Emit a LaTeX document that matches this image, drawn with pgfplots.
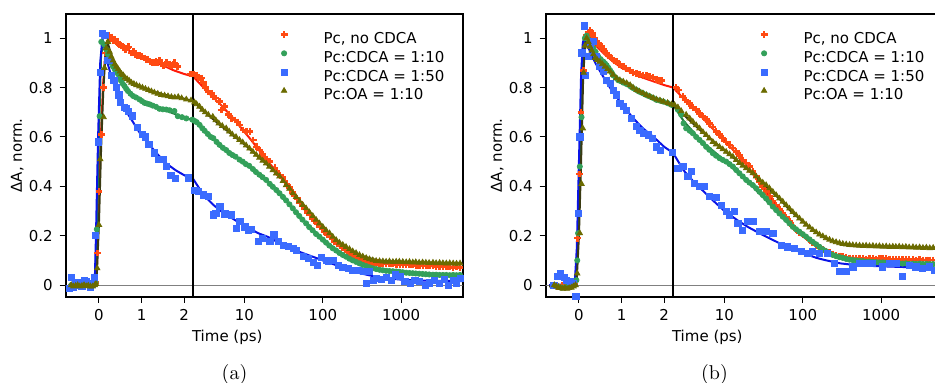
\documentclass[border=0pt]{standalone}
\usepackage{pgfplots}
\pgfplotsset{compat=1.18}
\usepackage{pgfplotstable}
\usepackage{fontspec}
\newfontfamily\dejavu{DejaVu Sans}
\definecolor{redm}{HTML}{FF4A12}
\definecolor{redl}{HTML}{FF1A0A}
\definecolor{greenm}{HTML}{33A05A}
\definecolor{greenl}{HTML}{1E7A3A}
\definecolor{bluem}{HTML}{3A6BFF}
\definecolor{bluel}{HTML}{0A14E6}
\definecolor{olivem}{HTML}{6B6B00}
\definecolor{olivel}{HTML}{3A3A12}

% ---------------- panel (a) data ----------------
\pgfplotstableread{
t v
-0.65 0.0
-0.55 -0.005
-0.45 0.002
-0.35 -0.003
-0.25 0.0
-0.15 0.003
-0.08 0.01
-0.04 0.13
0.00 0.38
0.055 0.61
0.11 0.80
0.16 0.94
0.22 1.01
0.26 1.00
0.29 1.005
0.34 0.99
0.38 0.995
0.41 0.985
0.45 0.98
0.48 0.975
0.52 0.97
0.56 0.965
0.60 0.96
0.63 0.955
0.67 0.96
0.70 0.965
0.76 0.94
0.81 0.945
0.86 0.935
0.90 0.93
0.95 0.93
1.00 0.925
1.07 0.92
1.11 0.915
1.15 0.915
1.20 0.905
1.25 0.90
1.30 0.90
1.34 0.905
1.38 0.90
1.42 0.91
1.47 0.90
1.52 0.89
1.55 0.895
1.59 0.90
1.65 0.895
1.70 0.89
1.74 0.895
1.77 0.90
1.85 0.885
2.15 0.855
2.23 0.855
2.45 0.85
2.6 0.84
2.84 0.838
2.97 0.82
3.2 0.80
3.44 0.784
3.8 0.777
4.05 0.765
4.32 0.757
4.76 0.743
5.1 0.709
5.6 0.723
6.2 0.69
6.84 0.676
7.55 0.669
8.1 0.66
8.74 0.649
9.6 0.628
10.6 0.622
11.7 0.622
12.9 0.588
14.2 0.56
15.7 0.547
17 0.53
18.2 0.514
19.5 0.51
21.1 0.50
24.4 0.475
26 0.46
28.3 0.446
30.5 0.435
32.8 0.419
35 0.41
38 0.395
41 0.375
44 0.36
47 0.35
51 0.335
55 0.32
59 0.31
64 0.295
68.4 0.285
74 0.27
79 0.26
85 0.248
91.6 0.238
98 0.228
106 0.218
114 0.205
123 0.197
132 0.186
142 0.178
153 0.167
165 0.158
178 0.15
191 0.142
206 0.134
221 0.126
238 0.12
256 0.112
276 0.108
297 0.104
320 0.100
344 0.097
370 0.096
398 0.095
430 0.092
461 0.091
497 0.09
534 0.088
580 0.087
645 0.085
710 0.085
781 0.085
870 0.084
964 0.084
1060 0.082
1160 0.081
1280 0.081
1410 0.081
1560 0.079
1730 0.078
1900 0.078
2100 0.077
2320 0.077
2550 0.077
2800 0.076
3100 0.074
3420 0.075
3780 0.074
4180 0.073
4620 0.072
5100 0.073
5650 0.072
}\redA
\pgfplotstableread{
t v
-0.65 0.0
-0.55 0.005
-0.45 -0.003
-0.35 0.0
-0.25 0.002
-0.15 0.0
-0.08 0.01
-0.05 0.226
0.016 0.684
0.055 0.985
0.12 0.975
0.17 0.955
0.21 0.935
0.25 0.915
0.29 0.90
0.33 0.885
0.37 0.874
0.41 0.865
0.45 0.854
0.49 0.84
0.52 0.827
0.56 0.815
0.60 0.806
0.64 0.795
0.68 0.786
0.74 0.775
0.80 0.766
0.87 0.76
0.95 0.752
1.01 0.745
1.07 0.738
1.13 0.735
1.19 0.732
1.26 0.727
1.34 0.722
1.42 0.714
1.50 0.712
1.58 0.711
1.66 0.708
1.77 0.705
1.85 0.684
1.95 0.68
2.05 0.675
2.19 0.67
2.3 0.665
2.45 0.66
2.67 0.649
2.9 0.635
3.1 0.625
3.4 0.612
3.7 0.60
4.0 0.595
4.4 0.58
4.8 0.568
5.3 0.556
5.84 0.547
6.4 0.535
7.0 0.527
7.7 0.52
8.63 0.508
9.5 0.50
10.4 0.49
11.5 0.483
12.8 0.47
14 0.458
15.5 0.447
17 0.437
18.9 0.426
21 0.41
23 0.398
25.5 0.385
28 0.372
31 0.357
34 0.343
37.5 0.327
41.4 0.311
45.5 0.295
50 0.28
55 0.265
61.2 0.25
67 0.235
74 0.222
82 0.207
90.6 0.196
100 0.184
110 0.172
121 0.16
134 0.149
148 0.14
163 0.13
180 0.122
198 0.115
218 0.107
241 0.1
266 0.094
294 0.088
324 0.082
358 0.077
395 0.072
435 0.068
480 0.065
530 0.062
585 0.06
643 0.058
710 0.057
785 0.056
865 0.055
950 0.054
1050 0.052
1160 0.05
1280 0.049
1410 0.048
1540 0.047
1700 0.046
1880 0.045
2070 0.044
2280 0.043
2550 0.042
2800 0.042
3100 0.041
3420 0.041
3780 0.041
4180 0.04
4620 0.041
5100 0.04
5650 0.041
}\greenA
\pgfplotstableread{
t v
-0.70 -0.012
-0.65 0.03
-0.60 -0.008
-0.55 0.005
-0.50 0.01
-0.45 0.0
-0.40 -0.005
-0.35 0.02
-0.30 0.015
-0.25 0.008
-0.20 -0.01
-0.15 0.005
-0.10 0.03
-0.08 0.2
-0.01 0.58
0.03 0.86
0.09 1.02
0.15 1.01
0.21 0.91
0.25 0.91
0.30 0.85
0.35 0.83
0.41 0.80
0.47 0.77
0.51 0.74
0.59 0.72
0.64 0.715
0.70 0.705
0.78 0.685
0.90 0.64
1.02 0.61
1.09 0.60
1.17 0.57
1.30 0.535
1.40 0.51
1.50 0.51
1.59 0.48
1.69 0.443
1.80 0.432
2.09 0.434
2.33 0.385
2.56 0.378
2.97 0.365
3.44 0.358
3.98 0.284
4.32 0.29
4.85 0.32
5.61 0.288
6.84 0.284
7.93 0.23
8.74 0.257
10.1 0.236
11.1 0.223
12.3 0.226
14.9 0.176
17.0 0.19
21.1 0.176
23.7 0.203
26.9 0.176
31.2 0.162
36.1 0.158
41.8 0.149
46.2 0.142
56.2 0.115
65 0.108
75.4 0.091
84.8 0.081
96.3 0.112
111 0.101
117 0.095
135 0.101
157 0.081
181 0.072
210 0.068
243 0.061
282 0.058
327 0.054
361 0.007
398 0.057
438 0.020
483 0.027
557 0.023
645 0.031
749 0.020
851 0.041
964 0.034
1120 0.016
1300 0.007
1500 0.02
1730 0.0135
2040 0.0
2300 0.009
2670 0.02
3100 0.007
3600 0.023
3980 0.0
4620 0.018
5110 0.007
5650 0.027
}\blueA
\pgfplotstableread{
t v
-0.65 0.0
-0.60 -0.005
-0.55 -0.003
-0.50 0.0
-0.45 -0.005
-0.40 -0.003
-0.35 0.0
-0.30 -0.004
-0.25 -0.002
-0.20 -0.005
-0.15 -0.005
-0.10 0.0
-0.07 0.005
-0.04 0.068
0.0 0.244
0.03 0.51
0.11 0.68
0.13 0.88
0.17 0.96
0.21 0.985
0.25 0.945
0.29 0.925
0.33 0.91
0.37 0.895
0.41 0.885
0.45 0.875
0.49 0.865
0.53 0.855
0.57 0.85
0.61 0.84
0.66 0.835
0.71 0.828
0.76 0.82
0.82 0.815
0.88 0.81
0.95 0.805
1.02 0.80
1.09 0.795
1.16 0.79
1.23 0.785
1.30 0.78
1.38 0.775
1.46 0.77
1.54 0.768
1.62 0.765
1.70 0.762
1.78 0.76
1.86 0.762
1.94 0.757
2.05 0.752
2.16 0.748
2.3 0.74
2.45 0.733
2.67 0.723
2.9 0.71
3.15 0.70
3.45 0.69
3.94 0.682
4.3 0.668
4.7 0.655
5.2 0.645
5.84 0.635
6.4 0.622
7.0 0.61
7.8 0.60
8.63 0.588
9.5 0.578
10.5 0.566
11.6 0.553
12.8 0.54
14.1 0.528
15.5 0.516
17.1 0.504
18.9 0.493
20.8 0.48
23 0.465
25.4 0.452
28 0.44
31 0.422
34 0.405
37.5 0.39
41.4 0.372
45.6 0.357
50.3 0.34
55.5 0.325
61.2 0.311
67.5 0.295
74.5 0.28
82 0.265
90.6 0.25
100 0.236
110 0.222
122 0.21
134 0.196
148 0.183
163 0.172
180 0.163
198 0.155
219 0.146
241 0.137
266 0.13
294 0.122
324 0.116
358 0.11
395 0.105
435 0.101
480 0.098
530 0.097
585 0.096
643 0.095
710 0.096
785 0.094
865 0.095
950 0.095
1050 0.094
1160 0.093
1280 0.094
1410 0.092
1540 0.093
1700 0.091
1880 0.092
2070 0.091
2280 0.090
2550 0.091
2800 0.089
3100 0.09
3420 0.089
3780 0.088
4180 0.089
4620 0.088
5100 0.087
5650 0.088
}\oliveA
% fits (a)
\pgfplotstableread{
t v
-0.7 0
-0.1 0
-0.05 0.06
0 0.35
0.05 0.62
0.1 0.82
0.15 0.94
0.2 0.99
0.25 1.0
0.35 0.99
0.5 0.97
0.75 0.945
1.0 0.925
1.25 0.905
1.5 0.89
1.75 0.87
2.0 0.855
2.21 0.845
3 0.80
4 0.76
5 0.73
7 0.68
10 0.62
12 0.59
15 0.55
20 0.50
30 0.435
50 0.34
70 0.28
100 0.225
150 0.165
200 0.135
300 0.105
500 0.09
1000 0.083
2000 0.078
6200 0.072
}\redAfit
\pgfplotstableread{
t v
-0.7 0
-0.1 0
-0.05 0.2
0 0.6
0.05 0.93
0.1 0.98
0.15 0.96
0.25 0.915
0.4 0.865
0.6 0.81
0.8 0.77
1.0 0.75
1.3 0.725
1.6 0.705
1.9 0.685
2.21 0.668
3 0.63
5 0.56
10 0.495
20 0.42
30 0.36
50 0.28
100 0.185
200 0.113
300 0.085
500 0.064
1000 0.053
2000 0.045
6200 0.04
}\greenAfit
\pgfplotstableread{
t v
-0.7 0
-0.1 0.0
-0.07 0.2
-0.02 0.6
0.03 0.9
0.08 1.0
0.12 0.97
0.2 0.9
0.3 0.84
0.4 0.79
0.5 0.75
0.6 0.715
0.8 0.66
1.0 0.605
1.2 0.565
1.4 0.525
1.6 0.49
1.8 0.465
2.0 0.445
2.21 0.43
3 0.365
4 0.325
5 0.30
7 0.27
10 0.24
15 0.21
20 0.195
30 0.165
50 0.135
70 0.118
100 0.10
150 0.08
200 0.065
300 0.048
500 0.032
1000 0.022
2000 0.018
6200 0.016
}\blueAfit
\pgfplotstableread{
t v
-0.7 0
-0.1 0
-0.05 0.04
0.0 0.25
0.05 0.55
0.1 0.78
0.15 0.93
0.2 0.985
0.25 0.955
0.35 0.905
0.5 0.865
0.75 0.822
1.0 0.80
1.5 0.772
2.0 0.755
2.21 0.745
3 0.705
5 0.645
10 0.57
20 0.485
30 0.43
50 0.342
70 0.29
100 0.235
150 0.18
200 0.153
300 0.12
500 0.1
1000 0.094
2000 0.091
6200 0.088
}\oliveAfit

% ---------------- panel (b) data ----------------
\pgfplotstableread{
t v
-0.6 0.0
-0.5 -0.005
-0.4 0.0
-0.3 -0.005
-0.2 0.0
-0.1 0.005
-0.03 0.19
0.01 0.45
0.05 0.70
0.1 0.87
0.18 1.01
0.22 1.025
0.26 1.03
0.29 1.02
0.32 1.02
0.36 1.0
0.41 0.986
0.45 0.98
0.49 0.97
0.53 0.966
0.57 0.955
0.61 0.945
0.65 0.94
0.70 0.93
0.77 0.92
0.82 0.91
0.88 0.905
0.95 0.895
1.04 0.885
1.10 0.878
1.2 0.87
1.27 0.862
1.35 0.858
1.42 0.852
1.5 0.85
1.58 0.848
1.66 0.845
1.74 0.84
1.82 0.834
1.88 0.83
1.94 0.828
2.41 0.80
2.6 0.79
2.94 0.764
3.2 0.75
3.58 0.736
3.95 0.72
4.35 0.71
4.8 0.695
5.29 0.682
5.85 0.67
6.43 0.655
7.1 0.64
7.82 0.622
8.6 0.61
9.5 0.595
10.5 0.58
11.6 0.568
12.8 0.555
14.1 0.54
15.5 0.525
17.1 0.507
18.9 0.495
20.8 0.48
23 0.46
25.4 0.44
28 0.42
30.8 0.40
34 0.38
37.5 0.358
41.4 0.34
45.6 0.324
50.3 0.307
55.5 0.29
61.2 0.273
67.5 0.257
74.5 0.24
82 0.223
90.6 0.212
100 0.203
110 0.195
122 0.183
134 0.172
148 0.162
163 0.152
180 0.143
198 0.137
219 0.131
241 0.126
266 0.121
294 0.118
324 0.115
358 0.112
395 0.11
435 0.108
480 0.108
530 0.107
585 0.108
643 0.106
710 0.108
785 0.107
865 0.106
950 0.108
1050 0.107
1160 0.108
1280 0.106
1410 0.105
1540 0.104
1700 0.105
1880 0.104
2070 0.103
2280 0.104
2550 0.103
2800 0.102
3100 0.104
3420 0.102
3780 0.101
4180 0.102
4620 0.101
}\redB
\pgfplotstableread{
t v
-0.6 0.0
-0.5 -0.005
-0.4 -0.01
-0.3 -0.008
-0.2 -0.005
-0.1 0.0
-0.06 0.02
-0.04 0.10
-0.02 0.21
0.02 0.48
0.06 0.68
0.10 0.94
0.14 1.0
0.18 1.01
0.22 0.995
0.26 0.986
0.30 0.975
0.34 0.96
0.39 0.945
0.45 0.926
0.51 0.915
0.57 0.905
0.61 0.898
0.65 0.89
0.69 0.88
0.73 0.87
0.77 0.86
0.80 0.85
0.86 0.84
0.92 0.83
0.98 0.826
1.04 0.82
1.12 0.814
1.2 0.806
1.27 0.798
1.35 0.79
1.42 0.783
1.5 0.777
1.58 0.77
1.66 0.764
1.74 0.758
1.82 0.75
1.9 0.747
1.98 0.743
2.08 0.737
2.17 0.73
2.54 0.71
2.8 0.69
3.0 0.655
3.24 0.635
3.6 0.625
3.94 0.615
4.35 0.60
4.8 0.588
5.3 0.575
5.83 0.56
6.4 0.548
7.1 0.534
7.8 0.524
8.63 0.514
9.5 0.507
10.5 0.50
11.6 0.49
12.8 0.48
14.1 0.466
15.5 0.453
17.1 0.44
18.9 0.426
20.8 0.415
23 0.405
25.4 0.392
28 0.378
30.8 0.365
34 0.351
37.5 0.335
41.4 0.318
45.6 0.304
50.3 0.29
55.5 0.277
61.2 0.264
67.5 0.25
74.5 0.236
82 0.226
90.6 0.216
100 0.206
110 0.196
122 0.185
134 0.175
148 0.165
163 0.155
180 0.145
198 0.137
219 0.128
241 0.122
266 0.117
294 0.113
324 0.11
358 0.106
395 0.103
435 0.101
480 0.1
530 0.098
585 0.097
643 0.095
710 0.095
785 0.094
865 0.093
950 0.092
1050 0.092
1160 0.091
1280 0.09
1410 0.09
1540 0.089
1700 0.088
1880 0.087
2070 0.088
2280 0.086
2550 0.087
2800 0.086
3100 0.087
3420 0.085
3780 0.086
4180 0.085
4620 0.085
}\greenB
\pgfplotstableread{
t v
-0.59 0.0
-0.51 0.034
-0.43 0.045
-0.35 0.031
-0.29 0.02
-0.21 0.014
-0.13 0.007
-0.07 -0.047
-0.02 0.29
0.02 0.60
0.07 0.94
0.12 1.05
0.16 0.85
0.22 0.926
0.27 0.973
0.34 0.986
0.41 0.926
0.49 0.885
0.57 0.865
0.65 0.83
0.73 0.818
0.80 0.79
0.88 0.77
0.96 0.736
1.04 0.723
1.12 0.709
1.23 0.676
1.35 0.642
1.43 0.628
1.51 0.615
1.63 0.608
1.73 0.595
1.82 0.56
1.92 0.547
2.2 0.536
2.54 0.473
2.94 0.482
3.4 0.44
3.75 0.46
4.14 0.412
4.8 0.399
5.55 0.399
6.43 0.358
7.82 0.355
9.07 0.324
10.5 0.297
11.6 0.284
13.4 0.297
14.8 0.25
17.1 0.223
19.8 0.257
23 0.257
28 0.216
34 0.216
41.4 0.209
53 0.162
64.3 0.155
78 0.149
95 0.135
116 0.128
134 0.135
163 0.128
208 0.128
254 0.088
294 0.054
358 0.054
435 0.074
529 0.088
643 0.088
782 0.088
1040 0.074
1270 0.088
1540 0.088
1890 0.034
2280 0.081
2780 0.074
3370 0.068
4100 0.074
4800 0.061
}\blueB
\pgfplotstableread{
t v
-0.58 0.0
-0.53 -0.005
-0.48 -0.01
-0.43 -0.012
-0.38 -0.015
-0.33 -0.012
-0.28 -0.015
-0.23 -0.012
-0.18 -0.01
-0.13 -0.005
-0.08 0.0
-0.04 0.047
0.02 0.21
0.06 0.41
0.09 0.635
0.11 0.86
0.14 0.97
0.18 1.0
0.22 0.985
0.26 0.966
0.3 0.95
0.34 0.935
0.38 0.92
0.43 0.912
0.49 0.905
0.55 0.895
0.61 0.885
0.67 0.875
0.73 0.865
0.80 0.852
0.88 0.838
0.96 0.83
1.04 0.824
1.12 0.818
1.2 0.81
1.27 0.80
1.35 0.79
1.42 0.784
1.5 0.777
1.58 0.77
1.66 0.764
1.74 0.758
1.82 0.752
1.9 0.748
1.98 0.743
2.08 0.738
2.17 0.732
2.3 0.73
2.54 0.72
2.8 0.705
3.24 0.69
3.6 0.675
3.94 0.662
4.35 0.648
4.8 0.635
5.3 0.62
5.83 0.608
6.4 0.594
7.1 0.58
7.8 0.57
8.63 0.56
9.5 0.55
10.5 0.54
11.6 0.53
12.8 0.52
14.1 0.507
15.5 0.495
17.1 0.484
18.9 0.473
20.8 0.463
23 0.453
25.4 0.44
28 0.426
30.8 0.415
34 0.405
37.5 0.392
41.4 0.378
45.6 0.365
50.3 0.351
55.5 0.338
61.2 0.324
67.5 0.31
74.5 0.296
82 0.283
90.6 0.27
100 0.257
110 0.245
122 0.234
134 0.223
148 0.214
163 0.205
180 0.198
198 0.19
219 0.184
241 0.178
266 0.174
294 0.17
324 0.167
358 0.165
395 0.163
435 0.162
480 0.161
530 0.16
585 0.159
643 0.16
710 0.158
785 0.159
865 0.157
950 0.158
1050 0.156
1160 0.157
1280 0.155
1410 0.156
1540 0.155
1700 0.156
1880 0.154
2070 0.155
2280 0.153
2550 0.154
2800 0.152
3100 0.153
3420 0.151
3780 0.152
4180 0.15
4620 0.151
}\oliveB
% fits (b)
\pgfplotstableread{
t v
-0.7 0
-0.1 0
-0.05 0.08
0 0.35
0.05 0.68
0.1 0.88
0.15 0.97
0.2 1.0
0.28 1.0
0.4 0.97
0.6 0.935
0.8 0.905
1.0 0.88
1.25 0.86
1.5 0.84
1.75 0.825
2.0 0.81
2.21 0.80
3 0.755
5 0.685
7 0.635
10 0.585
15 0.525
20 0.48
30 0.40
50 0.31
70 0.25
100 0.20
150 0.16
200 0.135
300 0.117
500 0.108
1000 0.106
2000 0.104
6200 0.10
}\redBfit
\pgfplotstableread{
t v
-0.7 0
-0.1 0
-0.05 0.06
0 0.3
0.05 0.65
0.1 0.93
0.15 0.99
0.2 0.99
0.3 0.965
0.5 0.915
0.75 0.865
1.0 0.825
1.5 0.777
2.0 0.742
2.21 0.73
3 0.665
5 0.585
10 0.505
20 0.418
30 0.36
50 0.29
70 0.245
100 0.206
150 0.163
200 0.135
300 0.111
500 0.1
1000 0.092
2000 0.088
6200 0.085
}\greenBfit
\pgfplotstableread{
t v
-0.7 0.0
-0.1 0.005
-0.05 0.15
0 0.5
0.05 0.85
0.09 0.98
0.12 1.0
0.2 0.97
0.3 0.93
0.4 0.895
0.5 0.865
0.6 0.835
0.8 0.78
1.0 0.735
1.25 0.68
1.5 0.635
1.75 0.6
2.0 0.56
2.21 0.535
3 0.465
4 0.42
5 0.39
7 0.345
10 0.30
15 0.26
20 0.235
30 0.205
50 0.17
70 0.15
100 0.13
150 0.11
200 0.10
300 0.088
500 0.08
1000 0.076
2000 0.073
6200 0.07
}\blueBfit
\pgfplotstableread{
t v
-0.7 -0.005
-0.3 -0.012
-0.1 -0.005
-0.05 0.03
0 0.2
0.05 0.5
0.1 0.85
0.15 0.98
0.2 0.99
0.3 0.95
0.5 0.905
0.75 0.86
1.0 0.826
1.5 0.777
2.0 0.742
2.21 0.73
3 0.69
5 0.625
10 0.545
20 0.468
30 0.415
50 0.35
70 0.30
100 0.258
150 0.212
200 0.188
300 0.168
500 0.16
1000 0.157
2000 0.155
6200 0.15
}\oliveBfit

\pgfplotsset{
  panel/.style={
    scale only axis, width=198.5pt, height=141.35pt,
    anchor=south west,
    xmin=-0.78, xmax=6117, ymin=-0.047, ymax=1.098,
    x coord trafo/.code={\pgfmathparse{min(##1,2.21)+0.798*ln(max(##1,2.21)/2.21)}},
    xtick={0,1,2,10,100,1000}, xticklabels={0,1,2,10,100,1000},
    ytick={0,0.2,0.4,0.6,0.8,1}, yticklabels={0,0.2,0.4,0.6,0.8,1},
    minor tick num=0,
    tick align=outside, xtick pos=left, ytick pos=left,
    major tick length=3pt,
    every tick/.style={black, line width=0.5pt},
    axis line style={line width=1pt},
    /pgf/number format/assume math mode=true,
    tick label style={font=\dejavu\fontsize{7.5}{9}\selectfont},
    label style={font=\dejavu\fontsize{7.5}{9}\selectfont},
    xlabel={Time (ps)}, ylabel={ΔA, norm.},
    xlabel style={at={(axis description cs:0.407,-0.143)}, anchor=center},
    ylabel style={at={(axis description cs:-0.122,0.5)}, anchor=center},
    legend style={draw=none, fill=none, at={(axis description cs:0.534,0.941)}, anchor=north west,
      inner sep=0pt, outer sep=0pt, row sep=0pt, column sep=0pt,
      font=\dejavu\fontsize{7.5}{9}\selectfont,
      nodes={inner sep=1pt, text height=5.5pt, text depth=1.85pt}},
    legend cell align=left,
    legend image code/.code={\path (-3pt,0pt) (18.5pt,0pt); \draw[##1] plot coordinates {(0pt,2.7pt)};},
  },
  redmk/.style={only marks, mark=+, mark size=1.7pt, redm, mark options={line width=1.3pt}},
  greenmk/.style={only marks, mark=*, mark size=1.3pt, greenm},
  bluemk/.style={only marks, mark=square*, mark size=1.55pt, bluem},
  olivemk/.style={only marks, mark=triangle*, mark size=1.55pt, olivem},
  fitline/.style={no marks, line width=1pt, forget plot},
}

\begin{document}
\begin{tikzpicture}
\useasboundingbox (0,0) rectangle (467.5pt,191.5pt);
% ---------- (a) ----------
\begin{axis}[panel, at={(32.85pt,43.15pt)}]
\addplot[gray, line width=0.5pt, forget plot] coordinates {(-1,0) (7000,0)};
\addplot[redmk] table[x=t,y=v] {\redA};
\addlegendentry{Pc, no CDCA}
\addplot[greenmk] table[x=t,y=v] {\greenA};
\addlegendentry{Pc:CDCA = 1:10}
\addplot[bluemk] table[x=t,y=v] {\blueA};
\addlegendentry{Pc:CDCA = 1:50}
\addplot[olivemk] table[x=t,y=v] {\oliveA};
\addlegendentry{Pc:OA = 1:10}
\addplot[fitline, redl] table[x=t,y=v] {\redAfit};
\addplot[fitline, greenl] table[x=t,y=v] {\greenAfit};
\addplot[fitline, bluel] table[x=t,y=v] {\blueAfit};
\addplot[fitline, olivel] table[x=t,y=v] {\oliveAfit};
\addplot[black, line width=1pt, forget plot] coordinates {(2.21,-0.2) (2.21,1.2)};
\end{axis}
% ---------- (b) ----------
\begin{axis}[panel, at={(272.85pt,43.15pt)}]
\addplot[gray, line width=0.5pt, forget plot] coordinates {(-1,0) (7000,0)};
\addplot[redmk] table[x=t,y=v] {\redB};
\addlegendentry{Pc, no CDCA}
\addplot[greenmk] table[x=t,y=v] {\greenB};
\addlegendentry{Pc:CDCA = 1:10}
\addplot[bluemk] table[x=t,y=v] {\blueB};
\addlegendentry{Pc:CDCA = 1:50}
\addplot[olivemk] table[x=t,y=v] {\oliveB};
\addlegendentry{Pc:OA = 1:10}
\addplot[fitline, redl] table[x=t,y=v] {\redBfit};
\addplot[fitline, greenl] table[x=t,y=v] {\greenBfit};
\addplot[fitline, bluel] table[x=t,y=v] {\blueBfit};
\addplot[fitline, olivel] table[x=t,y=v] {\oliveBfit};
\addplot[black, line width=1pt, forget plot] coordinates {(2.21,-0.2) (2.21,1.2)};
\end{axis}
\node[font=\fontsize{10}{12}\selectfont] at (117.25pt,4pt) {(a)};
\node[font=\fontsize{10}{12}\selectfont] at (357.25pt,4pt) {(b)};
\end{tikzpicture}
\end{document}
